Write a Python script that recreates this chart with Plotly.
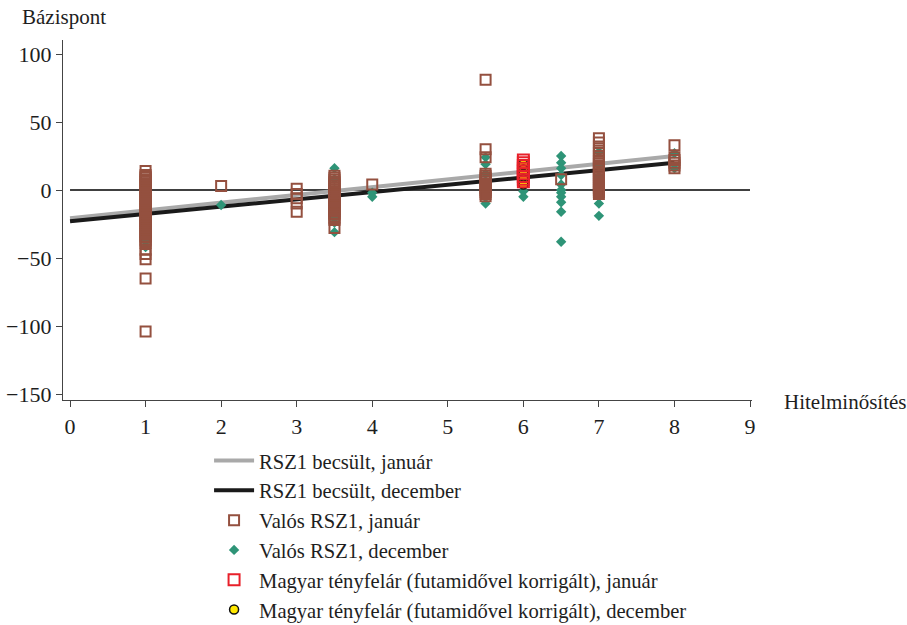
import plotly.graph_objects as go

# ---------------- data ----------------
fit_rating = [0, 8]
fit_jan = [-20.8, 25.0]   # RSZ1 becsült, január
fit_dec = [-23.0, 20.0]   # RSZ1 becsült, december

# Valós RSZ1, január (rating -> spreads, bp)
jan_r1 = [14, 11, 10, 9, 7.5, 6, 5, 3.5, 2, 1, -0.5, -2, -3, -4.5, -6, -7, -8.5, -10, -11,
          -12.5, -14, -15, -16.5, -18, -19, -20.5, -22, -23, -24.5, -26, -27, -28.5, -30,
          -31, -32.5, -34, -35, -36.5, -38, -39, -44, -47, -51, -65, -104]
jan_r2 = [3]
jan_r3 = [1, -3, -6, -10, -16]
jan_r35 = [10.5, 9, 7.5, 6, 5, 3.5, 2, 0.5, -1, -2, -3.5, -5, -6, -7.5, -9, -10, -11.5, -13,
           -14, -15.5, -17, -18, -19.5, -21, -22, -28]
jan_r4 = [4]
jan_r55 = [81, 30, 24, 12, 10.5, 9, 7.5, 6, 4.5, 3, 1.5, 0, -1.5, -3, -4.5]
jan_r65 = [8]
jan_r7 = [38, 35, 32, 29, 27, 25, 23, 21, 19.5, 18, 16.5, 15, 13.5, 12, 10.5, 9, 7.5, 6,
          4.5, 3, 1.5, 0, -1.5, -3]
jan_r8 = [33, 24, 22, 20, 18, 16]

# Valós RSZ1, december
dec_r1 = [5, -5, -15, -25, -35, -38, -42]
dec_r2 = [-11]
dec_r35 = [16, 8, 0, -10, -18, -21, -24, -31]
dec_r4 = [-2, -5]
dec_r55 = [24, 19, 12, 5, 0, -5, -10]
dec_r6 = [10, -1, -5]
dec_r65 = [25, 20, 16, 11, 4, 0, -2, -5, -9, -16, -38]
dec_r7 = [28, 18, 10, -5, -10, -19]
dec_r8 = [27, 16]

# Magyar tényfelár (rating 6)
hu_jan = [22, 20, 18, 16, 14, 12, 10, 8, 6]
hu_dec = [19, 15, 12, 8, 4]

y_ticks = [-150, -100, -50, 0, 50, 100]
y_tick_text = ["\u2212150", "\u2212100", "\u221250", "0", "50", "100"]
x_ticks = [0, 1, 2, 3, 4, 5, 6, 7, 8, 9]


def expand(groups):
    xs, ys = [], []
    for r, vals in groups:
        xs += [r] * len(vals)
        ys += vals
    return xs, ys


jan_x, jan_y = expand([(1, jan_r1), (2, jan_r2), (3, jan_r3), (3.5, jan_r35), (4, jan_r4),
                       (5.5, jan_r55), (6.5, jan_r65), (7, jan_r7), (8, jan_r8)])
dec_x, dec_y = expand([(1, dec_r1), (2, dec_r2), (3.5, dec_r35), (4, dec_r4), (5.5, dec_r55),
                       (6, dec_r6), (6.5, dec_r65), (7, dec_r7), (8, dec_r8)])
hu_jan_x, hu_jan_y = expand([(6, hu_jan)])
hu_dec_x, hu_dec_y = expand([(6, hu_dec)])

FONT = "Liberation Serif, Times New Roman, serif"
TXT = "#1E1E1E"
BROWN = "#94503F"
GREEN = "#2E9477"

fig = go.Figure()

fig.add_trace(go.Scatter(x=fit_rating, y=fit_jan, mode="lines", name="RSZ1 becsült, január",
                         line=dict(color="#A9A9A9", width=4), legendrank=1))
fig.add_trace(go.Scatter(x=fit_rating, y=fit_dec, mode="lines", name="RSZ1 becsült, december",
                         line=dict(color="#1A1A1A", width=4), legendrank=2))
fig.add_trace(go.Scatter(x=dec_x, y=dec_y, mode="markers", name="Valós RSZ1, december",
                         marker=dict(symbol="diamond", size=8, color=GREEN,
                                     line=dict(width=0)), legendrank=4))
fig.add_trace(go.Scatter(x=jan_x, y=jan_y, mode="markers", name="Valós RSZ1, január",
                         marker=dict(symbol="square-open", size=10, color=BROWN,
                                     line=dict(width=2, color=BROWN)), legendrank=3))
fig.add_trace(go.Scatter(x=hu_dec_x, y=hu_dec_y, mode="markers",
                         name="Magyar tényfelár (futamidővel korrigált), december",
                         marker=dict(symbol="circle", size=9, color="#FFE800",
                                     line=dict(width=1.5, color="#111111")), legendrank=6))
fig.add_trace(go.Scatter(x=hu_jan_x, y=hu_jan_y, mode="markers",
                         name="Magyar tényfelár (futamidővel korrigált), január",
                         marker=dict(symbol="square-open", size=11, color="#E8202A",
                                     line=dict(width=2, color="#E8202A")), legendrank=5))

fig.add_shape(type="line", xref="x", yref="y", x0=0, x1=9, y0=0, y1=0,
              line=dict(color="#000000", width=1.3), layer="below")

fig.update_layout(
    width=907, height=625,
    margin=dict(l=63, r=155, t=40, b=225, autoexpand=False),
    paper_bgcolor="white", plot_bgcolor="white",
    font=dict(family=FONT, size=21, color=TXT),
    showlegend=True,
    legend=dict(x=0.212, y=-0.113, xanchor="left", yanchor="top",
                font=dict(family=FONT, size=20.6, color=TXT),
                bgcolor="rgba(0,0,0,0)", itemwidth=40, tracegroupgap=0),
    xaxis=dict(range=[-0.093, 9.026], tickvals=x_ticks, showgrid=False, zeroline=False,
               showline=True, linecolor="#444444", linewidth=1.2,
               ticks="outside", ticklen=6, tickcolor="#444444",
               tickfont=dict(family=FONT, size=22, color=TXT)),
    yaxis=dict(range=[-154.4, 110.3], tickvals=y_ticks, ticktext=y_tick_text,
               showgrid=False, zeroline=False,
               showline=True, linecolor="#444444", linewidth=1.2,
               ticks="outside", ticklen=6, tickcolor="#444444",
               tickfont=dict(family=FONT, size=22, color=TXT)),
    annotations=[
        dict(text="Bázispont", xref="paper", yref="paper", x=-0.0624, y=1.064,
             xanchor="left", yanchor="middle", showarrow=False,
             font=dict(family=FONT, size=21, color=TXT)),
        dict(text="Hitelminősítés", xref="paper", yref="paper", x=1.0435, y=-0.006,
             xanchor="left", yanchor="middle", showarrow=False,
             font=dict(family=FONT, size=21, color=TXT)),
    ],
)

fig.write_html("out.html")
